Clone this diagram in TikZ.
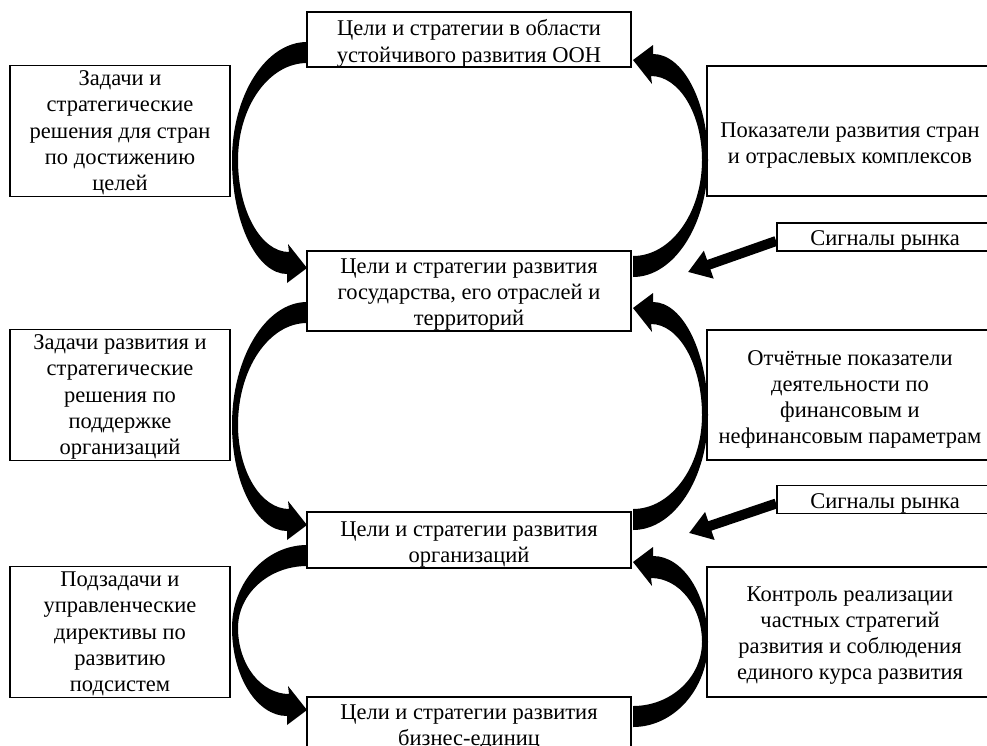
\documentclass[tikz,border=0pt]{standalone}
\usepackage{fontspec}
\setmainfont{Liberation Serif}
\usetikzlibrary{arrows.meta}
% curved block arrow: #1 box edge x, #2 side (1 left, -1 right), #3 tail y, #4 bulge y, #5 tip y
\newcommand{\CArrow}[5]{%
\fill ({#1},{#3})
 .. controls ({#1-(#2)*41},{#3}) and ({#1-(#2)*75},{#4-0.552*(#4-(#3))}) .. ({#1-(#2)*75},{#4})
 .. controls ({#1-(#2)*75},{#4+0.552*(#5+(#2)*6-(#4))}) and ({#1-(#2)*50},{#5+(#2)*6}) .. ({#1-(#2)*20},{#5+(#2)*6})
 -- ({#1-(#2)*20},{#5+(#2)*15}) -- ({#1},{#5}) -- ({#1-(#2)*19},{#5-(#2)*24}) -- ({#1-(#2)*18},{#5-(#2)*16})
 .. controls ({#1-(#2)*46},{#5-(#2)*16}) and ({#1-(#2)*69},{#4+0.552*(#5-(#2)*16-(#4))}) .. ({#1-(#2)*69},{#4})
 .. controls ({#1-(#2)*69},{#4-0.552*(#4-(#3)-(#2)*21)}) and ({#1-(#2)*38},{#3+(#2)*21}) .. ({#1},{#3+(#2)*21}) -- cycle;}
\newcommand{\fst}[1][22pt]{\rule{0pt}{#1}}
\newcommand{\lst}{\rule[-5pt]{0pt}{5pt}}
\begin{document}
\begin{tikzpicture}[x=1pt,y=-1pt,
  box/.style={draw, line width=1.8pt, inner sep=0pt, align=center, font=\fontsize{22.5}{26.3}\selectfont},
  cbox/.style={box, minimum width=324pt},
  sbox/.style={box, minimum width=220pt, minimum height=131pt},
  rbox/.style={box, minimum width=286pt, minimum height=130pt},
  sigbox/.style={box, minimum width=216pt, minimum height=28pt},
  sig/.style={line width=10pt, -{Triangle[length=22pt,width=28pt]}}]
\useasboundingbox (0,0) rectangle (987,745);
\clip (0,0) rectangle (987,745);
% curved arrows
\CArrow{307}{1}{42}{160}{268}
\CArrow{307}{1}{302}{425}{525}
\CArrow{307}{1}{545}{628}{710}
\CArrow{633}{-1}{277}{160}{60}
\CArrow{633}{-1}{530}{415}{308}
\CArrow{633}{-1}{727}{642}{562}
% central boxes
\node[cbox, minimum height=53pt] (C1) at (469,39.5) {\fst[24pt]Цели и стратегии в области\\устойчивого развития ООН\lst};
\node[cbox, minimum height=78pt] (C2) at (469,291) {\fst Цели и стратегии развития\\государства, его отраслей и\\территорий\lst};
\node[cbox, minimum height=54pt] (C3) at (469,540) {\fst[24pt]Цели и стратегии развития\\организаций\lst};
\node[cbox, minimum height=60pt] (C4) at (469,727) {Цели и стратегии развития\\бизнес-единиц};
% left boxes
\node[sbox] (L1) at (120,131) {\fst[19pt]Задачи и\\стратегические\\решения для стран\\по достижению\\целей\lst};
\node[sbox] (L2) at (120,395) {\fst[19pt]Задачи развития и\\стратегические\\решения по\\поддержке\\организаций\lst};
\node[sbox] (L3) at (120,632) {\fst[19pt]Подзадачи и\\управленческие\\директивы по\\развитию\\подсистем\lst};
% right boxes
\node[rbox] (R1) at (850,131) {\fst[44pt]Показатели развития стран\\и отраслевых комплексов\lst};
\node[rbox] (R2) at (850,395) {\fst[24pt]Отчётные показатели\\деятельности по\\финансовым и\\нефинансовым параметрам\lst};
\node[rbox] (R3) at (850,632) {\fst Контроль реализации\\частных стратегий\\развития и соблюдения\\единого курса развития\lst};
% market signals
\node[sigbox] (S1) at (885,237) {\fst Сигналы рынка\lst};
\node[sigbox] (S2) at (885,499.5) {\fst Сигналы рынка\lst};
\coordinate (T1) at (688,272);
\coordinate (T2) at (689,533);
\draw[sig] ([yshift=-4pt]S1.west) -- (T1);
\draw[sig] ([yshift=-4pt]S2.west) -- (T2);
\end{tikzpicture}
\end{document}
